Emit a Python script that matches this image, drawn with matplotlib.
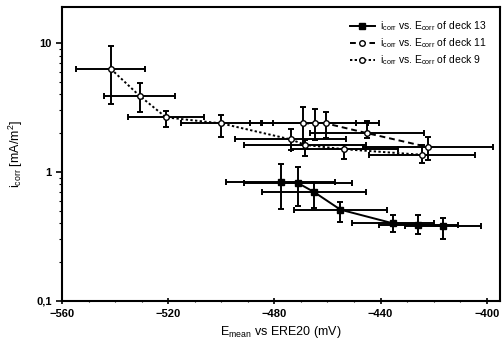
import numpy as np
import matplotlib.pyplot as plt
from matplotlib.ticker import FixedLocator, MultipleLocator, FixedFormatter

plt.rcParams['font.family'] = ['Liberation Sans', 'DejaVu Sans']

# deck 13 (solid, filled squares)
x13 = [-477.6, -471.1, -465.1, -455.1, -435.4, -425.7, -416.4]
y13 = [0.83, 0.82, 0.70, 0.51, 0.40, 0.39, 0.38]
xerr13 = [20.6, 20.5, 19.7, 17.5, 15.4, 15.0, 14.4]
ylo13 = [0.52, 0.54, 0.53, 0.41, 0.34, 0.33, 0.30]
yhi13 = [1.15, 1.10, 0.84, 0.59, 0.46, 0.46, 0.44]

# deck 11 (dashed, open circles)
x11 = [-469.1, -464.8, -460.5, -445.1, -422.1]
y11 = [2.38, 2.38, 2.38, 2.00, 1.56]
xerr11 = [20.0, 20.0, 20.0, 21.5, 24.5]
ylo11 = [1.62, 1.77, 1.83, 1.83, 1.24]
yhi11 = [3.21, 3.06, 2.93, 2.50, 1.88]

# deck 9 (dotted, open circles)
x9 = [-541.6, -530.8, -520.8, -500.0, -473.9, -468.3, -453.6, -424.5]
y9 = [6.3, 3.9, 2.65, 2.38, 1.79, 1.62, 1.50, 1.36]
xerr9 = [13.0, 13.2, 14.4, 15.0, 21.0, 23.0, 20.0, 20.0]
ylo9 = [3.37, 2.93, 2.24, 1.88, 1.48, 1.33, 1.25, 1.17]
yhi9 = [9.5, 4.87, 2.99, 2.77, 2.14, 1.77, 1.62, 1.62]

fig = plt.figure(figsize=(5.04, 3.54), dpi=100)
ax = fig.add_axes([0.123, 0.150, 0.869, 0.830])

series = [
    (x13, y13, xerr13, ylo13, yhi13, '-', 's', 'k', 'deck 13'),
    (x11, y11, xerr11, ylo11, yhi11, (0, (3, 2)), 'o', 'white', 'deck 11'),
    (x9, y9, xerr9, ylo9, yhi9, (0, (1.2, 1.2)), 'o', 'white', 'deck 9'),
]
handles = []
for xs, ys, xe, lo, hi, ls, mk, fc, name in series:
    ys = np.array(ys)
    yerr = [ys - np.array(lo), np.array(hi) - ys]
    ax.errorbar(xs, ys, xerr=xe, yerr=yerr, fmt='none', ecolor='k',
                elinewidth=1.4, capsize=2.5, capthick=1.4, zorder=2)
    h, = ax.plot(xs, ys, linestyle=ls, color='k', lw=1.4, marker=mk,
                 ms=4, mfc=fc, mec='k', mew=1.0, zorder=3,
                 label=r'$\mathregular{i_{corr}}$ vs. $\mathregular{E_{corr}}$ of ' + name)
    handles.append(h)

ax.set_yscale('log')
ax.set_xlim(-560, -395)
ax.set_ylim(0.1, 19)
ax.xaxis.set_major_locator(FixedLocator([-560, -520, -480, -440, -400]))
ax.xaxis.set_minor_locator(MultipleLocator(10))
ax.yaxis.set_major_locator(FixedLocator([0.1, 1, 10]))
ax.yaxis.set_major_formatter(FixedFormatter(['0,1', '1', '10']))
ax.tick_params(axis='both', which='major', labelsize=8, width=1.2, length=4)
ax.tick_params(axis='x', which='both', direction='inout')
ax.tick_params(axis='both', which='minor', width=0.8, length=2)
for lbl in ax.get_xticklabels() + ax.get_yticklabels():
    lbl.set_fontweight('bold')
for s in ax.spines.values():
    s.set_linewidth(1.5)

ax.set_xlabel(r'$\mathregular{E_{mean}}$ vs ERE20 (mV)', fontsize=9, labelpad=4)
ax.set_ylabel(r'$\mathregular{i_{corr}}$ [mA/m$\mathregular{^2}$]', fontsize=9, labelpad=8)

ax.legend(handles=handles, loc='upper right', bbox_to_anchor=(0.99, 0.99),
          frameon=False, fontsize=7.5, handlelength=2.4, handletextpad=0.5,
          labelspacing=0.3)

fig.savefig('out.png', dpi=100)
